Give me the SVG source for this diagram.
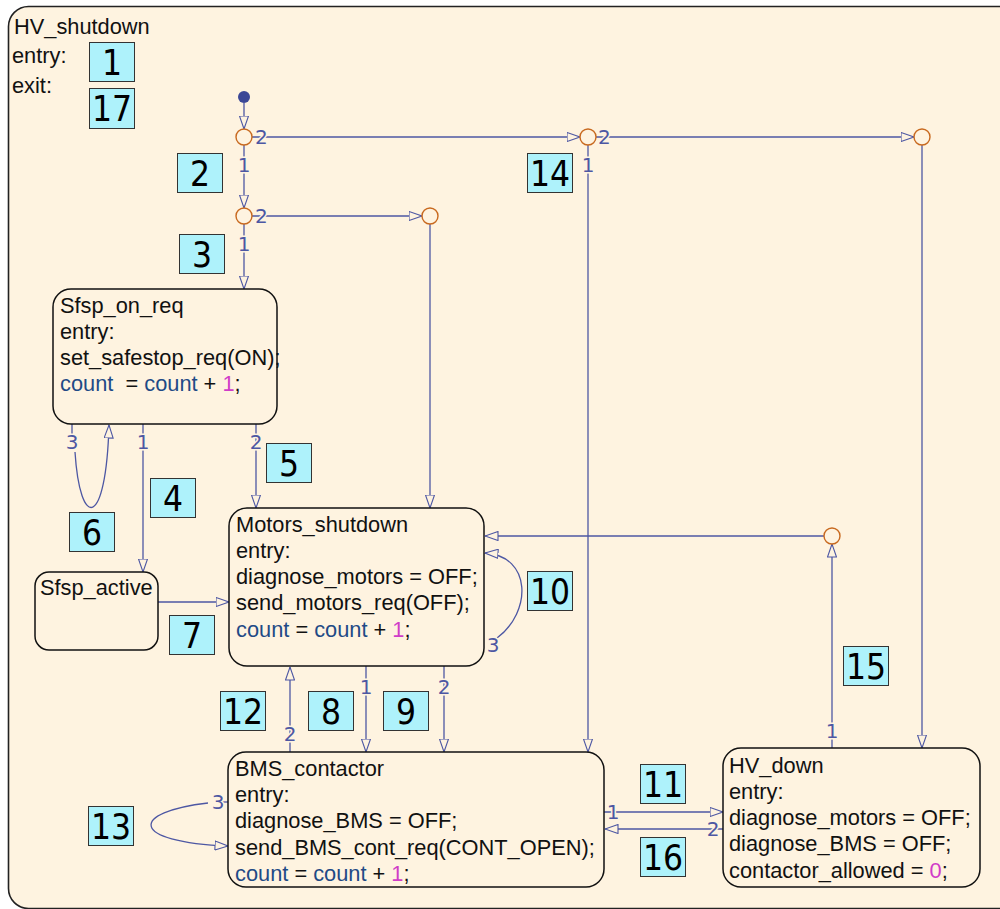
<svg xmlns="http://www.w3.org/2000/svg" width="1000" height="909" viewBox="0 0 1000 909">
  <style>
    .chart { fill: #fef3e0; stroke: #222; stroke-width: 1.6; }
    .state { fill: #fef3e0; stroke: #111; stroke-width: 1.5; }
    .stxt { font-family: "Liberation Sans", Arial, sans-serif; font-size: 21.8px; fill: #111; }
    .var { fill: #1f4a86; }
    .num { fill: #d03cc8; }
    .tr { fill: none; stroke: #4d57a3; stroke-width: 1.3; }
    .trm { marker-end: url(#open); }
    .lbl { font-family: "DejaVu Sans", sans-serif; font-size: 20px; fill: #4d57a3; stroke: #fef3e0; stroke-width: 3; paint-order: stroke; }
    .mid { text-anchor: middle; }
    .junc { fill: #fef3e0; stroke: #c8691f; stroke-width: 1.4; }
    .tag rect { fill: #aef2fb; stroke: #333; stroke-width: 1; }
    .tag text { font-family: "DejaVu Sans", sans-serif; font-stretch: condensed; font-size: 35px; fill: #000; text-anchor: middle; }
  </style>
  <defs>
    <marker id="open" viewBox="0 0 14 10" refX="13.5" refY="5" markerWidth="14" markerHeight="10" markerUnits="userSpaceOnUse" orient="auto">
      <path d="M0.5,0.5 L13.5,5 L0.5,9.5 Z" fill="#fef3e0" stroke="#4d57a3" stroke-width="1.1"/>
    </marker>
  </defs>

  <rect width="1000" height="909" fill="#ffffff"/>

  <!-- parent chart -->
  <g id="HV_shutdown">
    <rect class="chart" x="8.5" y="6.5" width="1010" height="902" rx="20"/>
    <text class="stxt" x="14" y="34">HV_shutdown</text>
    <text class="stxt" x="12" y="63">entry:</text>
    <text class="stxt" x="12" y="93">exit:</text>
  </g>

  <!-- transitions -->
  <g id="connectors">
    <!-- default transition -->
    <circle cx="244" cy="97" r="6" fill="#3b4796"/>
    <line class="tr trm" x1="244" y1="102" x2="244" y2="129"/>
    <!-- first junction -->
    <line class="tr trm" x1="252" y1="137" x2="580" y2="137"/>
    <line class="tr trm" x1="244" y1="145" x2="244" y2="208"/>
    <!-- second junction -->
    <line class="tr trm" x1="252" y1="216" x2="422" y2="216"/>
    <line class="tr trm" x1="244" y1="224" x2="244" y2="289"/>
    <line class="tr trm" x1="430" y1="224" x2="430" y2="508"/>
    <!-- right junctions -->
    <line class="tr trm" x1="596" y1="137" x2="914" y2="137"/>
    <line class="tr trm" x1="588" y1="145" x2="588" y2="752"/>
    <line class="tr trm" x1="922" y1="145" x2="922" y2="748"/>
    <!-- Sfsp_on_req outgoing -->
    <line class="tr trm" x1="143" y1="424" x2="143" y2="572"/>
    <line class="tr trm" x1="256" y1="424" x2="256" y2="508"/>
    <line class="tr" x1="72" y1="424" x2="72" y2="434"/>
    <path class="tr trm" d="M75,452 C80,530 106,530 109,425"/>
    <!-- Sfsp_active to Motors_shutdown -->
    <line class="tr trm" x1="158" y1="602" x2="229" y2="602"/>
    <!-- return junction into Motors_shutdown -->
    <line class="tr trm" x1="824" y1="536" x2="485" y2="536"/>
    <path class="tr trm" d="M497,638 C532,612 532,556 485,553"/>
    <!-- Motors_shutdown / BMS_contactor -->
    <line class="tr trm" x1="366" y1="666" x2="366" y2="752"/>
    <line class="tr trm" x1="444" y1="666" x2="444" y2="752"/>
    <line class="tr trm" x1="290" y1="752" x2="290" y2="667"/>
    <line class="tr" x1="222" y1="802" x2="228" y2="802"/>
    <path class="tr trm" d="M208,803 C130,812 128,842 228,846"/>
    <!-- BMS_contactor / HV_down -->
    <line class="tr trm" x1="604" y1="812" x2="723" y2="812"/>
    <line class="tr trm" x1="723" y1="829" x2="605" y2="829"/>
    <line class="tr trm" x1="832" y1="748" x2="832" y2="544"/>

    <!-- junctions -->
    <circle class="junc" cx="244" cy="137" r="8"/>
    <circle class="junc" cx="244" cy="216" r="8"/>
    <circle class="junc" cx="430" cy="216" r="8"/>
    <circle class="junc" cx="588" cy="137" r="8"/>
    <circle class="junc" cx="922" cy="137" r="8"/>
    <circle class="junc" cx="832" cy="536" r="8"/>

    <!-- execution order labels -->
    <text class="lbl" x="255" y="144">2</text>
    <text class="lbl mid" x="244" y="172">1</text>
    <text class="lbl" x="255" y="223">2</text>
    <text class="lbl mid" x="244" y="251">1</text>
    <text class="lbl" x="598" y="144">2</text>
    <text class="lbl mid" x="588" y="172">1</text>
    <text class="lbl mid" x="72" y="449">3</text>
    <text class="lbl mid" x="143" y="449">1</text>
    <text class="lbl mid" x="256" y="449">2</text>
    <text class="lbl mid" x="493" y="652">3</text>
    <text class="lbl mid" x="366" y="694">1</text>
    <text class="lbl mid" x="444" y="694">2</text>
    <text class="lbl mid" x="290" y="741">2</text>
    <text class="lbl mid" x="218" y="809">3</text>
    <text class="lbl mid" x="613" y="819">1</text>
    <text class="lbl mid" x="713" y="836">2</text>
    <text class="lbl mid" x="832" y="738">1</text>
  </g>

  <!-- states -->
  <g id="Sfsp_on_req">
    <rect class="state" x="53" y="289" width="224" height="135" rx="18"/>
    <text class="stxt" x="60" y="313">Sfsp_on_req</text>
    <text class="stxt" x="60" y="339">entry:</text>
    <text class="stxt" x="60" y="365">set_safestop_req(ON);</text>
    <text class="stxt" x="60" y="391"><tspan class="var">count</tspan>&#160; = <tspan class="var">count</tspan> + <tspan class="num">1</tspan>;</text>
  </g>

  <g id="Sfsp_active">
    <rect class="state" x="35" y="572" width="123" height="78" rx="14"/>
    <text class="stxt" x="40" y="595">Sfsp_active</text>
  </g>

  <g id="Motors_shutdown">
    <rect class="state" x="229" y="508" width="255" height="158" rx="18"/>
    <text class="stxt" x="236" y="532">Motors_shutdown</text>
    <text class="stxt" x="236" y="558">entry:</text>
    <text class="stxt" x="236" y="584">diagnose_motors = OFF;</text>
    <text class="stxt" x="236" y="610">send_motors_req(OFF);</text>
    <text class="stxt" x="236" y="637"><tspan class="var">count</tspan> = <tspan class="var">count</tspan> + <tspan class="num">1</tspan>;</text>
  </g>

  <g id="BMS_contactor">
    <rect class="state" x="228" y="752" width="376" height="135" rx="18"/>
    <text class="stxt" x="235" y="776">BMS_contactor</text>
    <text class="stxt" x="235" y="802">entry:</text>
    <text class="stxt" x="235" y="828">diagnose_BMS = OFF;</text>
    <text class="stxt" x="235" y="855">send_BMS_cont_req(CONT_OPEN);</text>
    <text class="stxt" x="235" y="881"><tspan class="var">count</tspan> = <tspan class="var">count</tspan> + <tspan class="num">1</tspan>;</text>
  </g>

  <g id="HV_down">
    <rect class="state" x="723" y="748" width="257" height="139" rx="18"/>
    <text class="stxt" x="729" y="773">HV_down</text>
    <text class="stxt" x="729" y="799">entry:</text>
    <text class="stxt" x="729" y="825">diagnose_motors = OFF;</text>
    <text class="stxt" x="729" y="851">diagnose_BMS = OFF;</text>
    <text class="stxt" x="729" y="878">contactor_allowed = <tspan class="num">0</tspan>;</text>
  </g>

  <!-- numbered tags -->
  <g id="tags" class="tag">
    <g id="tag1"><rect x="89.5" y="42.5" width="45" height="39"/><text x="112" y="75">1</text></g>
    <g id="tag17"><rect x="89.5" y="88.5" width="45" height="40"/><text x="112" y="121">17</text></g>
    <g id="tag2"><rect x="177.5" y="153.5" width="45" height="39"/><text x="200" y="186">2</text></g>
    <g id="tag3"><rect x="179.5" y="234.5" width="45" height="39"/><text x="202" y="267">3</text></g>
    <g id="tag14"><rect x="527.5" y="153.5" width="45" height="39"/><text x="550" y="186">14</text></g>
    <g id="tag5"><rect x="266.5" y="443.5" width="45" height="39"/><text x="289" y="476">5</text></g>
    <g id="tag4"><rect x="150.5" y="478.5" width="45" height="39"/><text x="173" y="511">4</text></g>
    <g id="tag6"><rect x="69.5" y="512.5" width="45" height="39"/><text x="92" y="545">6</text></g>
    <g id="tag7"><rect x="169.5" y="615.5" width="45" height="39"/><text x="192" y="648">7</text></g>
    <g id="tag10"><rect x="527.5" y="571.5" width="45" height="39"/><text x="550" y="604">10</text></g>
    <g id="tag12"><rect x="220.5" y="691.5" width="45" height="39"/><text x="243" y="724">12</text></g>
    <g id="tag8"><rect x="308.5" y="691.5" width="45" height="39"/><text x="331" y="724">8</text></g>
    <g id="tag9"><rect x="383.5" y="691.5" width="45" height="39"/><text x="406" y="724">9</text></g>
    <g id="tag15"><rect x="843.5" y="646.5" width="45" height="39"/><text x="866" y="679">15</text></g>
    <g id="tag11"><rect x="640.5" y="764.5" width="45" height="39"/><text x="663" y="797">11</text></g>
    <g id="tag16"><rect x="640.5" y="837.5" width="45" height="39"/><text x="663" y="870">16</text></g>
    <g id="tag13"><rect x="88.5" y="806.5" width="45" height="39"/><text x="111" y="839">13</text></g>
  </g>
</svg>
